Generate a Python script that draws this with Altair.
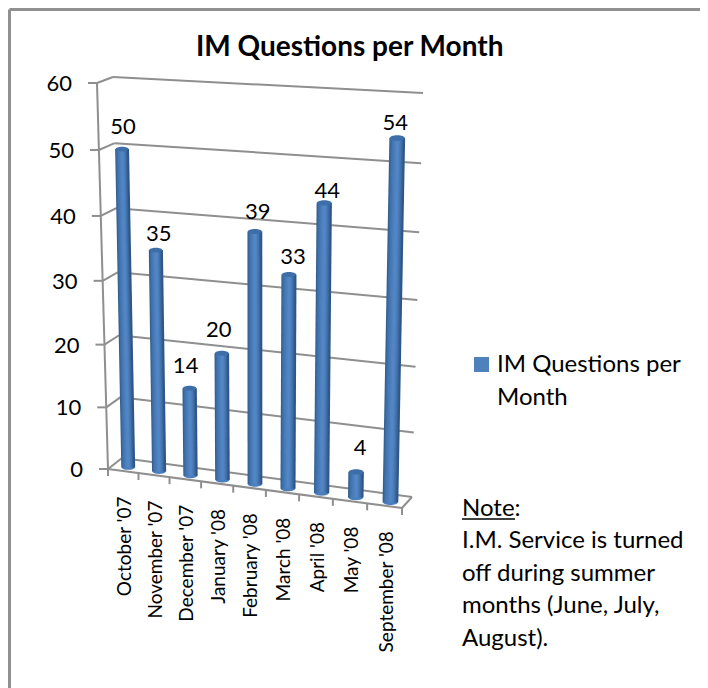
import altair as alt
import pandas as pd

# ---- data
MONTHS = ["October '07", "November '07", "December '07", "January '08", "February '08",
          "March '08", "April '08", "May '08", "September '08"]
COUNTS = [50, 35, 14, 20, 39, 33, 44, 4, 54]
Y_TICKS = [0, 10, 20, 30, 40, 50, 60]
TITLE = "IM Questions per Month"
SERIES = ["IM Questions per", "Month"]
NOTE = ["I.M. Service is turned", "off during summer", "months (June, July,", "August)."]

# ---- style / layout
FONT = "Lato"
GRID = "#8f8f8f"
SHADES = ["#33608f", "#3a6ca5", "#4173b0", "#4778b6", "#4b7dbb", "#4f82c0", "#5286c4",
          "#5286c4", "#4e81bf", "#4979b5", "#4170a8", "#386397", "#2f5686"]
CAP_TOP = "#3d6ea8"
CAP_BOTTOM = "#4a7ebc"
LABEL_DX = [1, 3, -4, -3, 3, 4, 3, 4, -2]
LABEL_DY = [-22, -16, -22, -23, -20, -17, -12, -24, -15]

# 3-D look: corners of the planes (bottom-left, bottom-right, top-left, top-right)
BACK = [(122, 458), (412, 497), (113, 77), (423, 93)]
FRONT = [(108, 469), (402, 508), (97, 83), (413, 104)]
MID = [(113, 465.5), (408, 504.5), (104.7, 81.4), (416.6, 96.4)]
N = len(MONTHS)
VMAX = 60


def project(plane, pos, value):
    t = pos / N
    t = t - 0.075 * t * (1 - t)
    u = value / VMAX
    u = u - 0.05 * u * (1 - u)
    bl, br, tl, tr = plane
    bx = bl[0] + (br[0] - bl[0]) * t
    by = bl[1] + (br[1] - bl[1]) * t
    ux = tl[0] + (tr[0] - tl[0]) * t
    uy = tl[1] + (tr[1] - tl[1]) * t
    return bx + (ux - bx) * u, by + (uy - by) * u


def seg(p, q, **kw):
    return dict(x=p[0], y=p[1], x2=q[0], y2=q[1], **kw)


W, H = 692, 680
X = alt.Scale(domain=[8, 8 + W], range=[0, W])
Y = alt.Scale(domain=[8 + H, 8], range=[H, 0])


def enc_xy():
    return dict(x=alt.X("x:Q", scale=X, axis=None), y=alt.Y("y:Q", scale=Y, axis=None))


def rules(rows, color, width):
    return alt.Chart(pd.DataFrame(rows)).mark_rule(color=color, strokeWidth=width).encode(
        x2="x2:Q", y2="y2:Q", **enc_xy())


def texts(rows, size, **kw):
    kw.setdefault("baseline", "alphabetic")
    return alt.Chart(pd.DataFrame(rows)).mark_text(font=FONT, fontSize=size, color="#000000", **kw).encode(
        text="text:N", **enc_xy())


# frame
frame = rules([seg((9.5, 9.5), (8 + W, 9.5)), seg((9.5, 9.5), (9.5, 8 + H))], "#909090", 3)

# walls, grid lines
wall = []
for v in Y_TICKS:
    wall.append(seg(project(FRONT, 0, v), project(BACK, 0, v)))
    wall.append(seg(project(BACK, 0, v), project(BACK, N, v)))
    fx, fy = project(FRONT, 0, v)
    wall.append(seg((fx - 9, fy), (fx, fy)))
wall.append(seg(project(FRONT, 0, 0), project(FRONT, 0, VMAX)))
wall.append(seg(project(FRONT, 0, 0), project(FRONT, N, 0)))
wall.append(seg(project(FRONT, N, 0), project(BACK, N, 0)))
for i in range(N + 1):
    fx, fy = project(FRONT, i, 0)
    wall.append(seg((fx, fy), (fx, fy + 7)))
walls = rules(wall, GRID, 2)

# cylinders
strips, caps = [], []
for i, v in enumerate(COUNTS):
    w = 13 + 2 * i / (N - 1)
    bx, by = project(MID, i + 0.5, 0)
    tx, ty = project(MID, i + 0.5, v)
    n = len(SHADES)
    for s, c in enumerate(SHADES):
        off = (s / (n - 1) - 0.5) * (w - w / n)
        strips.append(seg((bx + off, by), (tx + off, ty), c=c, o=f"{i:02d}{s:02d}"))
    caps.append(dict(x=bx, y=by, s=w * w, c=CAP_BOTTOM))
    caps.append(dict(x=tx, y=ty, s=w * w, c=CAP_TOP))
ELLIPSE = "M-1,0 A1,0.36 0 1,1 1,0 A1,0.36 0 1,1 -1,0 Z"
bottoms = alt.Chart(pd.DataFrame(caps[0::2])).mark_point(shape=ELLIPSE, filled=True, opacity=1, strokeWidth=0).encode(
    color=alt.Color("c:N", scale=None), size=alt.Size("s:Q", scale=None), **enc_xy())
bodies = alt.Chart(pd.DataFrame(strips)).mark_rule(strokeWidth=1.9).encode(
    x2="x2:Q", y2="y2:Q", color=alt.Color("c:N", scale=None), **enc_xy())
tops = alt.Chart(pd.DataFrame(caps[1::2])).mark_point(shape=ELLIPSE, filled=True, opacity=1, strokeWidth=0).encode(
    color=alt.Color("c:N", scale=None), size=alt.Size("s:Q", scale=None), **enc_xy())

# texts
value_labels = []
for i, v in enumerate(COUNTS):
    tx, ty = project(MID, i + 0.5, v)
    value_labels.append(dict(x=tx + LABEL_DX[i], y=ty + LABEL_DY[i], text=str(v)))
value_text = texts(value_labels, 22, align="center", baseline="middle")

tick_labels = []
for v in Y_TICKS:
    fx, fy = project(FRONT, 0, v)
    tick_labels.append(dict(x=fx - 25, y=fy + 1, text=str(v)))
tick_text = texts(tick_labels, 22, align="right", baseline="middle")

cat_labels = []
for i, m in enumerate(MONTHS):
    fx, fy = project(FRONT, i + 0.5, 0)
    cat_labels.append(dict(x=fx + 8, y=fy + 25.5, text=m))
cat_text = texts(cat_labels, 19, align="right", angle=270)

title = texts([dict(x=196, y=56, text=TITLE)], 28, align="left", fontWeight="bold")
legend_text = texts([dict(x=497, y=372, text=SERIES[0]), dict(x=497, y=405, text=SERIES[1])], 24, align="left")
legend_mark = alt.Chart(pd.DataFrame([dict(x=481.5, y=364.5)])).mark_square(size=225, color="#4f81bd", opacity=1).encode(**enc_xy())
note_head = texts([dict(x=462, y=516, text="Note:")], 24, align="left")
underline = rules([seg((462, 519), (515, 519))], "#000000", 1.5)
note_text = texts([dict(x=462, y=548 + 32.6 * k, text=t) for k, t in enumerate(NOTE)], 24, align="left")

chart = alt.layer(
    frame, walls, bottoms, bodies, tops, value_text, tick_text, cat_text, title,
    legend_mark, legend_text, note_head, underline, note_text,
).properties(width=W, height=H, padding=0, autosize=alt.AutoSizeParams(type="none"),
             background="white").configure_view(strokeWidth=0)

chart.save("out.html", embed_options={"renderer": "svg", "actions": False})
